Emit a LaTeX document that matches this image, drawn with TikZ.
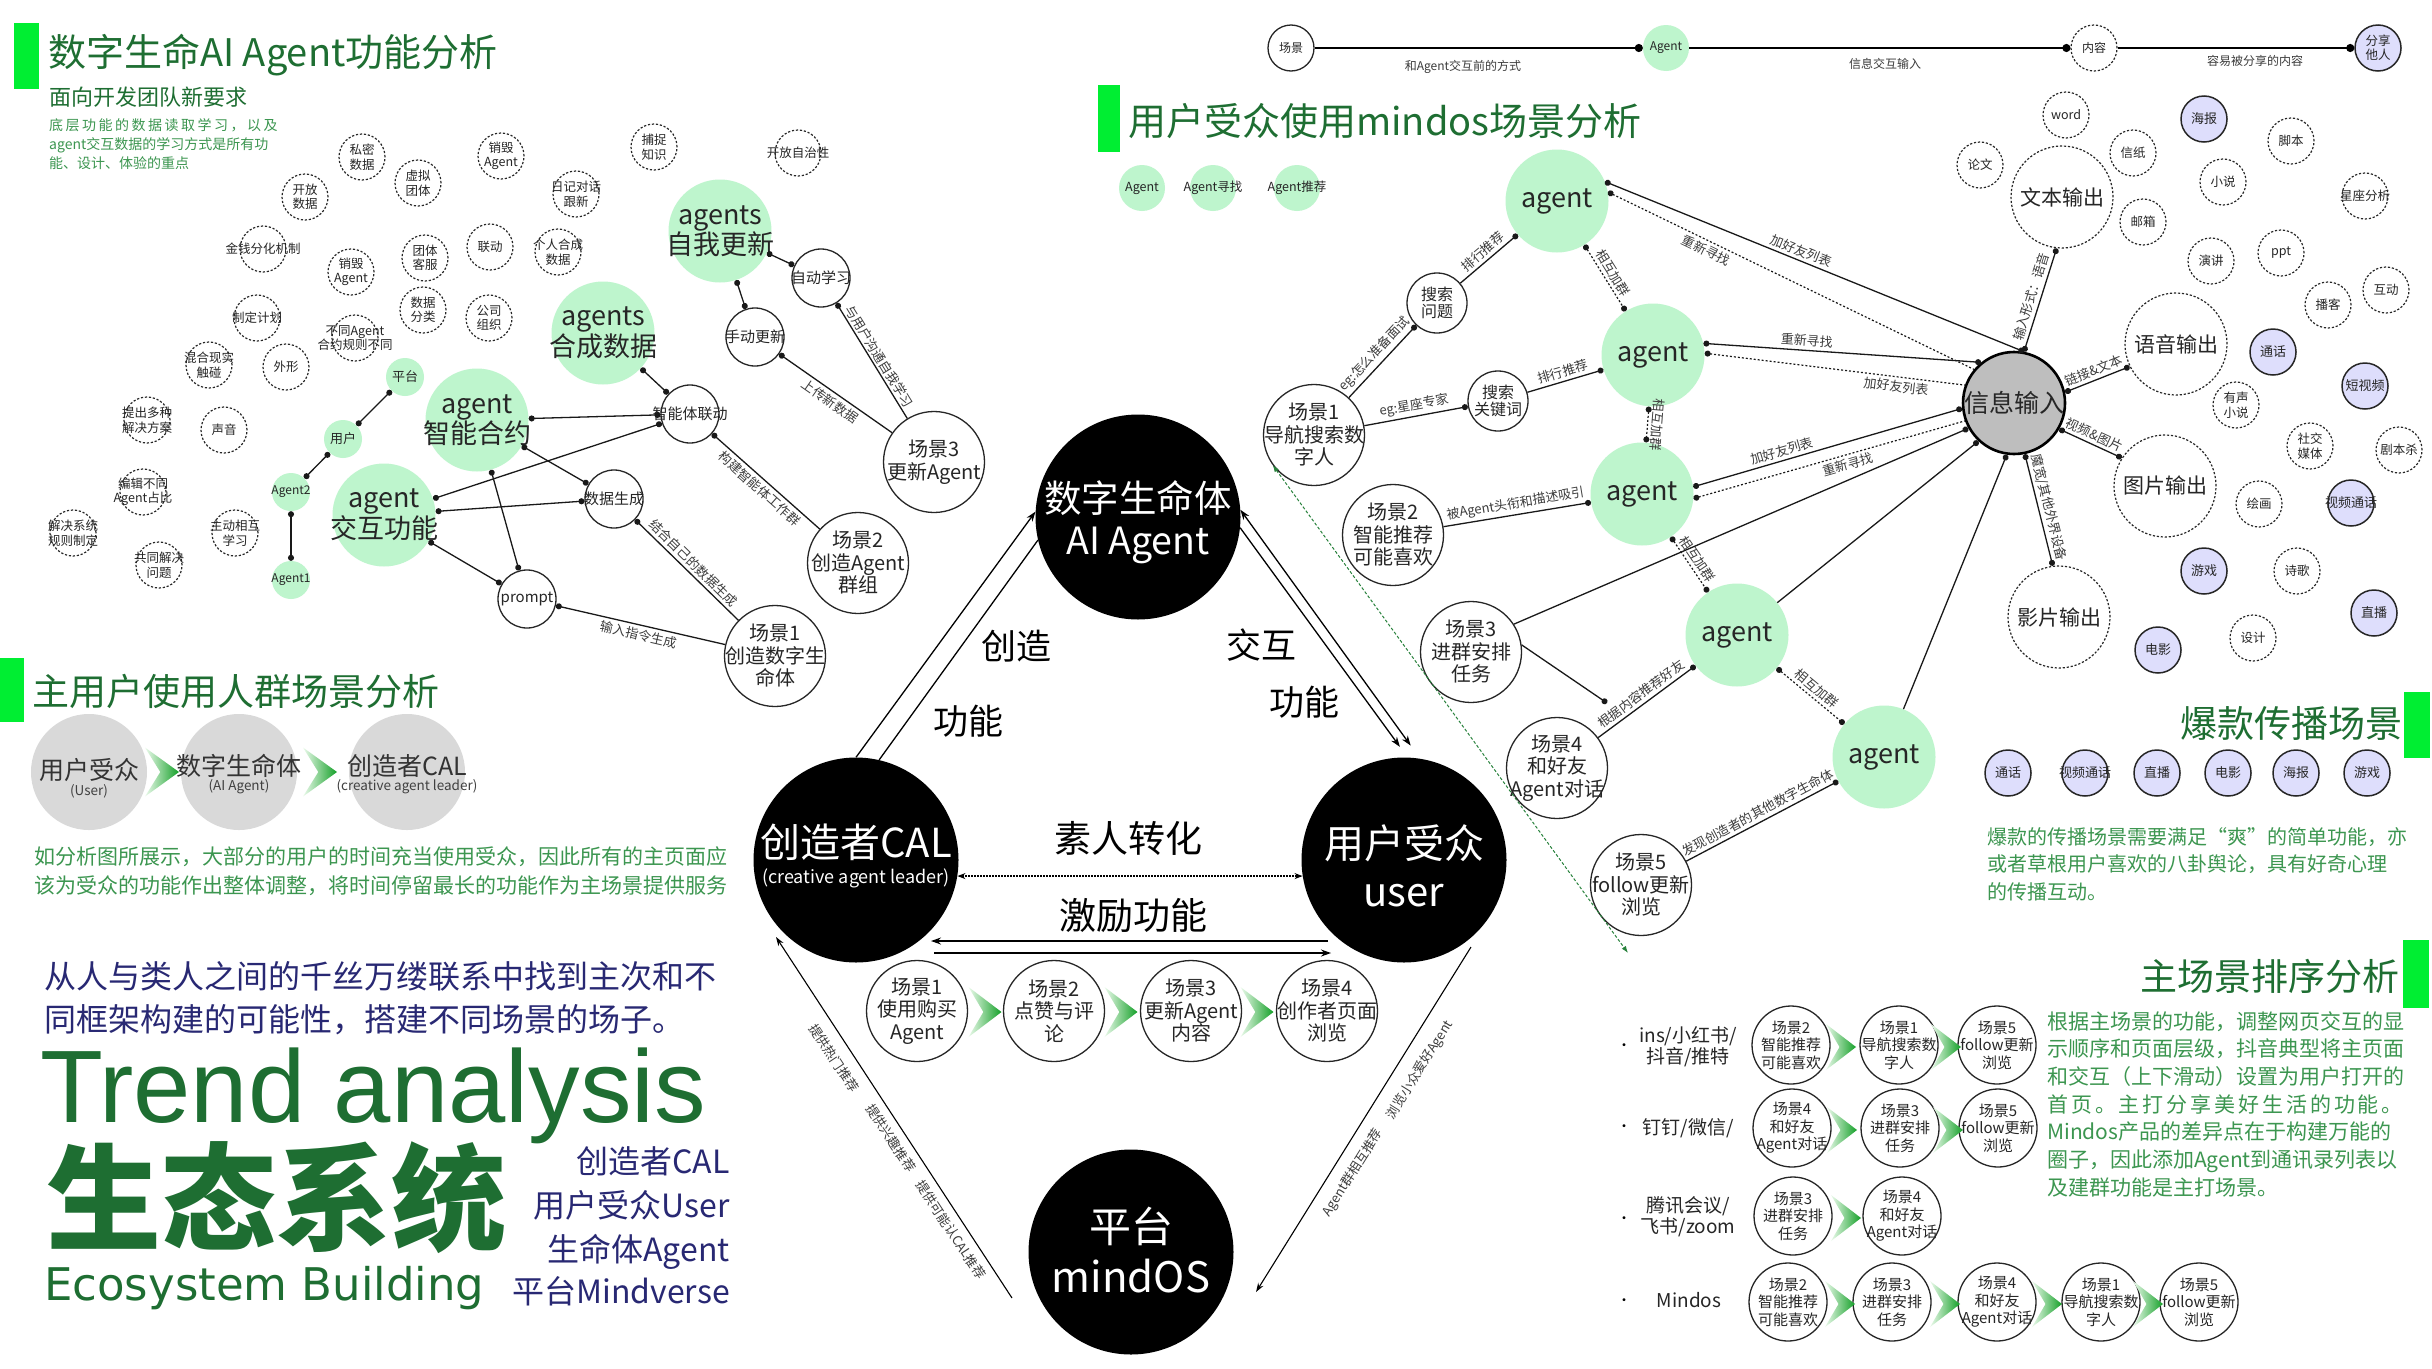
\documentclass[tikz,border=0pt]{standalone}
\usepackage{fontspec}
\setmainfont{Noto Sans CJK SC}
\newfontfamily\arialf{Liberation Sans}
\newfontfamily\dejavuf{DejaVu Sans}
\usetikzlibrary{arrows.meta}
\definecolor{mint}{RGB}{190,245,205}
\definecolor{lav}{RGB}{222,222,252}
\definecolor{dgreen}{RGB}{30,110,50}
\definecolor{pgreen}{RGB}{60,150,80}
\definecolor{bgreen}{RGB}{0,238,50}
\definecolor{navy}{RGB}{40,40,115}
\definecolor{labc}{RGB}{60,60,60}
\definecolor{chevd}{RGB}{20,160,40}
\definecolor{chevl}{RGB}{235,250,235}
\definecolor{ggray}{RGB}{217,217,217}
\definecolor{igray}{RGB}{190,190,190}
\definecolor{gdash}{RGB}{40,130,60}
\newcommand\fsz[2]{\fontsize{#1}{#2}\selectfont}
\newcommand\cnode[6]{\node[#1] (#3) at (#4,#5) {}; \node[ctext,#2] (#3t) at (#4,#5) {#6};}
\newcommand\mychev[4]{\shade[left color=chevl, right color=chevd] (#1-#3/2,#2-#4/2) -- (#1+#3/2,#2) -- (#1-#3/2,#2+#4/2) -- (#1-#3*0.05,#2) -- cycle;}
\newcommand\kk{\kern2.5pt}
\newcommand\kq{\kern2.9pt}
\tikzset{
 ctext/.style={align=center, inner sep=0pt, text=black!85},
 dsm/.style={circle, draw=black!85, line width=1.2pt, dash pattern=on 2.2pt off 1.8pt, minimum size=46pt, inner sep=0pt},
 dbg/.style={dsm, minimum size=102pt},
 gsm/.style={circle, fill=mint, minimum size=38pt, inner sep=0pt},
 gmd/.style={circle, fill=mint, minimum size=46pt, inner sep=0pt},
 gbg/.style={circle, fill=mint, minimum size=103pt, inner sep=0pt},
 wsm/.style={circle, draw=black!85, line width=1.3pt, minimum size=58pt, inner sep=0pt},
 wmd/.style={wsm, minimum size=60pt},
 wtb/.style={wsm, minimum size=46pt},
 scn/.style={wsm, minimum size=101pt},
 sorder/.style={wsm, minimum size=78pt},
 lv/.style={circle, draw=black!85, line width=1.5pt, fill=lav, minimum size=46pt, inner sep=0pt},
 blk/.style={circle, fill=black, minimum size=205pt, inner sep=0pt},
 gcirc/.style={circle, fill=ggray, minimum size=116pt, inner sep=0pt},
 infost/.style={circle, draw=black, line width=2.6pt, fill=igray, minimum size=102pt, inner sep=0pt},
 tdsm/.style={font=\fsz{12.5}{14.5}},
 tgs/.style={font=\fsz{13}{14}},
 tgb/.style={font=\fsz{27}{29}},
 twsm/.style={font=\fsz{15}{17}},
 tscn/.style={font=\fsz{20}{22.5}},
 twmd/.style={font=\fsz{16}{17.5}},
 tso/.style={font=\fsz{15}{17.5}},
 tlv/.style={font=\fsz{13}{14.5}},
 tdbg/.style={font=\fsz{21}{23}},
 lab/.style={font=\fsz{13}{14}, text=labc, inner sep=0pt},
 ln/.style={line width=1.3pt, draw=black!90},
 dl/.style={ln, {Circle[length=6pt]}-{Circle[length=6pt]}},
 dlA/.style={ln, {Circle[length=6pt]}-},
 dlB/.style={ln, -{Circle[length=6pt]}},
 dtl/.style={line width=1.2pt, draw=black!90, dash pattern=on 2pt off 2pt},
 dtd/.style={dtl, {Circle[length=6pt]}-{Circle[length=6pt]}},
 dtA/.style={dtl, {Circle[length=6pt]}-},
 heads/.style={line width=1.3pt},
 bigt/.style={inner sep=0pt, text=white},
 titl/.style={inner sep=0pt, text=dgreen, font=\fsz{37}{40}},
 para/.style={inner sep=0pt, text=pgreen, align=left},
}
\begin{document}
\begin{tikzpicture}[x=1pt,y=-1pt]
\useasboundingbox (0,0) rectangle (2432,1368);
\fill[white] (0,0) rectangle (2432,1368);

%%%%%%%% Section 1: top left
\fill[bgreen] (14,23) rectangle (39,89);
\node[titl, anchor=west, font=\fsz{38}{40}] (ti1) at (48,55) {数字生命AI Agent功能分析};
\node[titl, anchor=west, font=\fsz{22}{24}] (ti1s) at (49,97) {面向开发团队新要求};
\node[para, anchor=north west, font=\fsz{14}{19}] (ti1p) at (49,118) {底\kk 层\kk 功\kk 能\kk 的\kk 数\kk 据\kk 读\kk 取\kk 学\kk 习\kk ，\kk 以\kk 及\\agent交互数据的学习方式是所有功\\能、设计、体验的重点};

\cnode{dsm}{tdsm}{d1}{362}{157}{私密\\数据}
\cnode{dsm}{tdsm}{d2}{418}{183}{虚拟\\团体}
\cnode{dsm}{tdsm}{d3}{501}{156}{销毁\\Agent}
\cnode{dsm}{tdsm}{d4}{654}{147}{捕捉\\知识}
\cnode{dsm}{tdsm}{d5}{798}{153}{开放自治性}
\cnode{dsm}{tdsm}{d6}{576}{194}{日记对话\\跟新}
\cnode{dsm}{tdsm}{d7}{305}{197}{开放\\数据}
\cnode{dsm}{tdsm}{d8}{263}{249}{金钱分化机制}
\cnode{dsm}{tdsm}{d9}{351}{272}{销毁\\Agent}
\cnode{dsm}{tdsm}{d10}{425}{258}{团体\\客服}
\cnode{dsm}{tdsm}{d11}{490}{247}{联动}
\cnode{dsm}{tdsm}{d12}{558}{252}{个人合成\\数据}
\cnode{dsm}{tdsm}{d13}{423}{310}{数据\\分类}
\cnode{dsm}{tdsm}{d14}{489}{318}{公司\\组织}
\cnode{dsm}{tdsm}{d15}{257}{318}{制定计划}
\cnode{dsm}{tdsm}{d16}{355}{338}{不同Agent\\合约规则不同}
\cnode{dsm}{tdsm}{d17}{209}{365}{混合现实\\触碰}
\cnode{dsm}{tdsm}{d18}{286}{367}{外形}
\cnode{dsm}{tdsm}{d19}{147}{420}{提出多种\\解决方案}
\cnode{dsm}{tdsm}{d20}{224}{430}{声音}
\cnode{dsm}{tdsm}{d21}{143}{492}{编辑不同\\Agent占比}
\cnode{dsm}{tdsm}{d22}{73}{533}{解决系统\\规则制定}
\cnode{dsm}{tdsm}{d23}{235}{533}{主动相互\\学习}
\cnode{dsm}{tdsm}{d24}{159}{565}{共同解决\\问题}

\cnode{gsm}{tgs}{gpt}{405}{377}{平台}
\cnode{gsm}{tgs}{gyh}{343}{439}{用户}
\cnode{gsm}{font=\fsz{12}{13}}{gag2}{291}{492}{Agent2}
\cnode{gsm}{font=\fsz{12}{13}}{gag1}{291}{580}{Agent1}
\draw[dl] (gpt) -- (gyh);
\draw[dl] (gyh) -- (gag2);
\draw[dl] (gag2) -- (gag1);

\cnode{gbg}{tgb}{as}{720}{231}{agents\\自我更新}
\cnode{gbg}{tgb}{acd}{603}{333}{agents\\合成数据}
\cnode{gbg}{tgb}{azy}{477}{420}{agent\\智能合约}
\cnode{gbg}{tgb}{ajh}{384}{515}{agent\\交互功能}

\cnode{wsm}{twsm}{zx}{821}{278}{自动学习}
\cnode{wsm}{twsm}{sd}{755}{337}{手动更新}
\cnode{wsm}{twsm}{ld}{690}{414}{智能体联动}
\cnode{wsm}{twsm}{sc}{614}{499}{数据生成}
\cnode{wsm}{twsm}{pr}{527}{599}{prompt}

\cnode{scn}{tscn}{l3}{934}{462}{场景3\\更新Agent}
\cnode{scn}{tscn}{l2}{858}{563}{场景2\\创造Agent\\群组}
\cnode{scn}{tscn}{l1}{775}{656}{场景1\\创造数字生\\命体}

\draw[dl] (as) -- (zx);
\draw[dl] (as) -- (sd);
\draw[dlA] (sd) -- node[lab, sloped, below=3pt] {上传新数据} (l3);
\draw[dlA] (zx) -- node[lab, sloped, above=2pt] {与用户沟通自我学习} (l3);
\draw[dl] (acd) -- (ld);
\draw[dl] (azy) -- (ld);
\draw[dl] (ajh) -- (ld);
\draw[dl] (azy) -- (sc);
\draw[dl] (ajh) -- (sc);
\draw[dl] (azy) -- (pr);
\draw[dl] (ajh) -- (pr);
\draw[dlA] (ld) -- node[lab, sloped, below=3pt] {构建智能体工作群} (l2);
\draw[dlA] (sc) -- node[lab, sloped, above=3pt] {结合自己的数据生成} (l1);
\draw[dlA] (pr) -- node[lab, sloped, below=3pt] {输入指令生成} (l1);

%%%%%%%% Section 2: main user group
\fill[bgreen] (0,658) rectangle (24,722);
\node[titl, anchor=west] (ti2) at (32,691) {主用户使用人群场景分析};
\node[gcirc] (g1) at (89,772) {};
\node[gcirc] (g2) at (239,772) {};
\node[gcirc] (g3) at (407,772) {};
\node[ctext, text=black!80, font=\fsz{25}{27}] (g1t) at (89,770) {用户受众};
\node[ctext, text=black!75, font=\fsz{13.5}{15}] (g1s) at (89,791) {(User)};
\node[ctext, text=black!80, font=\fsz{25}{27}] (g2t) at (239,766) {数字生命体};
\node[ctext, text=black!75, font=\fsz{13.5}{15}] (g2s) at (239,787) {(AI Agent)};
\node[ctext, text=black!80, font=\fsz{25}{27}] (g3t) at (407,766) {创造者CAL};
\node[ctext, text=black!75, font=\fsz{13.5}{15}] (g3s) at (407,787) {(creative agent leader)};
\mychev{162}{772}{34}{49}
\mychev{320}{772}{34}{49}
\node[para, anchor=north west, font=\fsz{21}{29}] (p2) at (34,846) {如分析图所展示，大部分的用户的时间充当使用受众，因此所有的主页面应\\该为受众的功能作出整体调整，将时间停留最长的功能作为主场景提供服务};

%%%%%%%% Section 3: bottom left
\node[inner sep=0pt, anchor=west, text=navy, font=\fsz{32}{43}, align=left] (p3) at (44,998) {从人与类人之间的千丝万缕联系中找到主次和不\\同框架构建的可能性，搭建不同场景的场子。};
\node[inner sep=0pt, anchor=base west, text=dgreen, font=\arialf\fsz{103}{110}] (tr) at (40,1122) {Trend analysis};
\node[inner sep=0pt, anchor=west, text=dgreen, font=\bfseries\fsz{115}{120}] (st) at (46,1198) {生态系统};
\node[inner sep=0pt, anchor=base west, text=dgreen, font=\dejavuf\fsz{45}{50}] (eb) at (44,1300) {Ecosystem Building};
\node[inner sep=0pt, anchor=base east, text=navy, font=\fsz{32}{34}] (nv1) at (730,1173) {创造者CAL};
\node[inner sep=0pt, anchor=base east, text=navy, font=\fsz{32}{34}] (nv2) at (730,1217) {用户受众User};
\node[inner sep=0pt, anchor=base east, text=navy, font=\fsz{32}{34}] (nv3) at (730,1261) {生命体Agent};
\node[inner sep=0pt, anchor=base east, text=navy, font=\fsz{32}{34}] (nv4) at (730,1303) {平台Mindverse};

%%%%%%%% Center triangle
\node[blk] (AG) at (1138,517) {};
\node[bigt, align=center, font=\fsz{37.5}{42}] (AGt) at (1138,522) {数字生命体\\AI Agent};
\node[blk] (CAL) at (856,860) {};
\node[bigt, font=\fsz{40}{44}] (CALt) at (856,842) {创造者CAL};
\node[bigt, font=\fsz{18}{20}] (CALs) at (856,878) {(creative agent leader)};
\node[blk] (USR) at (1404,860) {};
\node[bigt, align=center, font=\fsz{40}{48}] (USRt) at (1404,866) {用户受众\\user};
\node[blk] (PF) at (1131,1252) {};
\node[bigt, align=center, font=\fsz{42}{50}] (PFt) at (1131,1250) {平台\\mindOS};

\draw[heads, -{Stealth[length=10pt,width=7pt]}] (CAL.90) -- (AG.177);
\draw[heads] (CAL.77) -- (AG.193);
\draw[heads, {Stealth[length=10pt,width=7pt]}-{Stealth[length=10pt,width=7pt]}, shorten >=16pt] (AG.4) -- (USR.81);
\draw[heads, -{Stealth[length=10pt,width=7pt]}, shorten >=13pt] (AG.-6) -- (USR.88);
\node[inner sep=0pt, font=\fsz{35}{38}] (lb1) at (1016,646) {创造};
\node[inner sep=0pt, font=\fsz{35}{38}] (lb2) at (968,721) {功能};
\node[inner sep=0pt, font=\fsz{35}{38}] (lb3) at (1261,645) {交互};
\node[inner sep=0pt, font=\fsz{35}{38}] (lb4) at (1304,702) {功能};
\node[inner sep=0pt, font=\fsz{37}{40}] (lb5) at (1128,838) {素人转化};
\node[inner sep=0pt, font=\fsz{37}{40}] (lb6) at (1133,915) {激励功能};
\draw[line width=1.3pt, dash pattern=on 1.5pt off 1.5pt, {Stealth[length=8pt,width=6pt]}-{Stealth[length=8pt,width=6pt]}] (CAL.-9) -- (USR.189);
\coordinate (j1a) at (1328,941);
\coordinate (j1b) at (931,941);
\coordinate (j2a) at (934,953);
\coordinate (j2b) at (1331,953);
\draw[heads, -{Stealth[length=10pt,width=7pt]}] (j1a) -- (j1b);
\draw[heads, -{Stealth[length=10pt,width=7pt]}] (j2a) -- (j2b);

\cnode{scn}{tscn}{b1}{917}{1011}{场景1\\使用购买\\Agent}
\cnode{scn}{tscn}{b2}{1054}{1011}{场景2\\点赞与评\\论}
\cnode{scn}{tscn}{b3}{1191}{1011}{场景3\\更新Agent\\内容}
\cnode{scn}{tscn}{b4}{1327}{1011}{场景4\\创作者页面\\浏览}
\mychev{985}{1012}{33}{50}
\mychev{1121}{1012}{33}{50}
\mychev{1257}{1012}{33}{50}

\coordinate (pfa) at (1012,1298);
\coordinate (pfb) at (776,937);
\draw[line width=1.1pt, -{Stealth[length=9pt,width=6pt]}] (pfa) -- (pfb);
\node[lab, rotate=-56.8] (pl1) at (834,1058) {提供热门推荐};
\node[lab, rotate=-56.8] (pl2) at (891,1138) {提供兴趣推荐};
\node[lab, rotate=-56.8] (pl3) at (951,1230) {提供可能认CAL推荐};
\coordinate (ufa) at (1471,947);
\coordinate (ufb) at (1256,1292);
\draw[line width=1.1pt, -{Stealth[length=9pt,width=6pt]}] (ufa) -- (ufb);
\node[lab, rotate=58] (ul1) at (1420,1070) {浏览小众爱好Agent};
\node[lab, rotate=58] (ul2) at (1353,1173) {Agent群相互推荐};

%%%%%%%% Top bar
\cnode{wtb}{font=\fsz{12}{13.5}}{tb1}{1291}{48}{场景}
\cnode{gmd}{font=\fsz{12}{13.5}}{tb2}{1666}{48}{Agent}
\cnode{dsm}{font=\fsz{12}{13.5}}{tb3}{2094}{48}{内容}
\cnode{lv}{font=\fsz{12.5}{14}}{tb4}{2378}{48}{分享\\他人}
\draw[line width=2.4pt, -{Circle[length=8pt]}] (tb1) -- (tb2);
\draw[line width=2.4pt, -{Circle[length=8pt]}] (tb2) -- (tb3);
\draw[line width=2.4pt, -{Circle[length=8pt]}] (tb3) -- (tb4);
\node[lab, font=\fsz{12}{13}] (tbl1) at (1463,67) {和Agent交互前的方式};
\node[lab, font=\fsz{12}{13}] (tbl2) at (1885,64) {信息交互输入};
\node[lab, font=\fsz{12}{13}] (tbl3) at (2255,61) {容易被分享的内容};

%%%%%%%% Right graph
\fill[bgreen] (1098,85) rectangle (1120,152);
\node[titl, anchor=west, font=\fsz{38}{40}] (ti3) at (1128,121) {用户受众使用mindos场景分析};
\cnode{gmd}{font=\fsz{12.5}{14}}{lg1}{1142}{188}{Agent}
\cnode{gmd}{font=\fsz{12.5}{14}}{lg2}{1213}{188}{Agent寻找}
\cnode{gmd}{font=\fsz{12.5}{14}}{lg3}{1297}{188}{Agent推荐}

\cnode{gbg}{tgb}{a1}{1557}{201}{agent}
\cnode{gbg}{tgb}{a2}{1653}{355}{agent}
\cnode{gbg}{tgb}{a3}{1642}{494}{agent}
\cnode{gbg}{tgb}{a4}{1737}{635}{agent}
\cnode{gbg}{tgb}{a5}{1884}{757}{agent}

\cnode{wmd}{twmd}{sq}{1437}{303}{搜索\\问题}
\cnode{wmd}{twmd}{sk}{1498}{401}{搜索\\关键词}
\cnode{scn}{tscn}{r1}{1314}{435}{场景1\\导航搜索数\\字人}
\cnode{scn}{tscn}{r2}{1393}{535}{场景2\\智能推荐\\可能喜欢}
\cnode{scn}{tscn}{r3}{1471}{652}{场景3\\进群安排\\任务}
\cnode{scn}{tscn}{r4}{1557}{768}{场景4\\和好友\\Agent对话}
\cnode{scn}{tscn}{r5}{1641}{885}{场景5\\follow更新\\浏览}

\cnode{infost}{font=\fsz{25}{27}}{info}{2014}{403}{信息输入}
\cnode{dbg}{tdbg}{wb}{2062}{197}{文本输出}
\cnode{dbg}{tdbg}{yy}{2176}{344}{语音输出}
\cnode{dbg}{tdbg}{tp}{2165}{486}{图片输出}
\cnode{dbg}{tdbg}{yp}{2059}{617}{影片输出}

\draw[dlB] (r1) -- node[lab, sloped, above=3pt] {eg:怎么准备面试} (sq);
\draw[dlB] (sq) -- node[lab, sloped, above=3pt] {排行推荐} (a1);
\draw[dlB] (r1) -- node[lab, sloped, above=3pt] {eg:星座专家} (sk);
\draw[dlB] (sk) -- node[lab, sloped, above=3pt] {排行推荐} (a2);
\draw[dlB] (r2) -- node[lab, sloped, above=3pt] {被Agent头衔和描述吸引} (a3);
\coordinate (s3d) at (1607,703);
\draw[dlB] (r3.8) -- (s3d);
\draw[dlB] (r4) -- node[lab, sloped, above=3pt] {根据内容推荐好友} (a4);
\draw[dlB] (r5) -- node[lab, sloped, above=3pt] {发现创造者的其他数字生命体} (a5);

\draw[dtd] (a1) -- node[lab, sloped, above=3pt] {相互加群} (a2);
\draw[dtd] (a2) -- node[lab, sloped, allow upside down, above=3pt] {相互加群} (a3);
\draw[dtd] (a3) -- node[lab, sloped, above=3pt] {相互加群} (a4);
\draw[dtd] (a4) -- node[lab, sloped, above=3pt] {相互加群} (a5);

\draw[dl] (a1.22) -- node[lab, sloped, above=3pt, pos=0.46] {加好友列表} (info.79);
\draw[dtA] (a1.10) -- node[lab, sloped, below=3pt, pos=0.28] {重新寻找} (info.140);
\draw[dl] (a2.13) -- node[lab, sloped, above=3pt, pos=0.37] {重新寻找} (info.129);
\draw[dtA] (a2.2) -- node[lab, sloped, below=3pt, pos=0.74] {加好友列表} (info.160);
\draw[dl] (a3.8) -- node[lab, sloped, above=3pt, pos=0.34] {加好友列表} (info.186);
\draw[dtA] (a3.-5) -- node[lab, sloped, below=3pt, pos=0.56] {重新寻找} (info.200);
\draw[dlB] (r3.33) -- (info.209);
\draw[dlB] (a4) -- (info.227);
\draw[dlB] (a5) -- (info.262);

\draw[dl] (info.79) -- node[lab, sloped, above=3pt] {输入形式：语音} (wb.264);
\draw[dl] (info.12) -- node[lab, sloped, above=3pt] {链接\&文本} (yy.206);
\draw[dl] (info.-30) -- node[lab, sloped, above=3pt] {视频\&图片} (tp.147);
\draw[dl] (info.282) -- node[lab, sloped, above=3pt] {魔宽/其他外界设备} (yp.97);

\coordinate (gde) at (1628,953);
\draw[gdash, line width=1pt, dash pattern=on 3pt off 2pt, {Latex[length=7pt,width=5pt]}-{Latex[length=7pt,width=5pt]}] (r1.216) -- (gde);

\cnode{dsm}{tdsm}{e1}{2066}{115}{word}
\cnode{dsm}{tdsm}{e2}{1980}{165}{论文}
\cnode{dsm}{tdsm}{e3}{2133}{153}{信纸}
\cnode{dsm}{tdsm}{e4}{2143}{222}{邮箱}
\cnode{lv}{tlv}{e5}{2204}{119}{海报}
\cnode{dsm}{tdsm}{e6}{2291}{141}{脚本}
\cnode{dsm}{tdsm}{e7}{2223}{182}{小说}
\cnode{dsm}{tdsm}{e8}{2365}{196}{星座分析}
\cnode{dsm}{tdsm}{e9}{2211}{261}{演讲}
\cnode{dsm}{tdsm}{e10}{2281}{253}{ppt}
\cnode{dsm}{tdsm}{e11}{2328}{305}{播客}
\cnode{dsm}{tdsm}{e12}{2386}{290}{互动}
\cnode{lv}{tlv}{e13}{2273}{352}{通话}
\cnode{lv}{tlv}{e14}{2365}{386}{短视频}
\cnode{dsm}{tdsm}{e15}{2236}{405}{有声\\小说}
\cnode{dsm}{tdsm}{e16}{2310}{446}{社交\\媒体}
\cnode{dsm}{tdsm}{e17}{2399}{450}{剧本杀}
\cnode{dsm}{tdsm}{e18}{2259}{504}{绘画}
\cnode{lv}{tlv}{e19}{2351}{503}{视频通话}
\cnode{lv}{tlv}{e20}{2204}{571}{游戏}
\cnode{dsm}{tdsm}{e21}{2297}{571}{诗歌}
\cnode{lv}{tlv}{e22}{2374}{613}{直播}
\cnode{dsm}{tdsm}{e23}{2253}{638}{设计}
\cnode{lv}{tlv}{e24}{2158}{650}{电影}

%%%%%%%% 爆款传播场景
\fill[bgreen] (2404,692) rectangle (2430,758);
\node[titl, anchor=east] (ti4) at (2403,723) {爆款传播场景};
\cnode{lv}{tlv}{h1}{2008}{773}{通话}
\cnode{lv}{tlv}{h2}{2085}{773}{视频通话}
\cnode{lv}{tlv}{h3}{2157}{773}{直播}
\cnode{lv}{tlv}{h4}{2228}{773}{电影}
\cnode{lv}{tlv}{h5}{2296}{773}{海报}
\cnode{lv}{tlv}{h6}{2367}{773}{游戏}
\node[para, anchor=north west, font=\fsz{20}{27.5}] (p4) at (1987,827) {爆款的传播场景需要满足“爽”的简单功能，亦\\或者草根用户喜欢的八卦舆论，具有好奇心理\\的传播互动。};

%%%%%%%% 主场景排序分析
\fill[bgreen] (2403,940) rectangle (2429,1008);
\node[titl, anchor=east] (ti5) at (2400,976) {主场景排序分析};
\node[inner sep=0pt, font=\fsz{14}{15}] (bu1) at (1624,1047) {•};
\node[inner sep=0pt, font=\fsz{14}{15}] (bu2) at (1624,1128) {•};
\node[inner sep=0pt, font=\fsz{14}{15}] (bu3) at (1624,1220) {•};
\node[inner sep=0pt, font=\fsz{14}{15}] (bu4) at (1624,1302) {•};
\node[ctext, font=\fsz{19}{21}] (rl1) at (1688,1047) {ins/小红书/\\抖音/推特};
\node[ctext, font=\fsz{19}{21}] (rl2) at (1688,1128) {钉钉/微信/};
\node[ctext, font=\fsz{19}{21}] (rl3) at (1688,1217) {腾讯会议/\\飞书/zoom};
\node[ctext, font=\fsz{19}{21}] (rl4) at (1689,1300) {Mindos};

\cnode{sorder}{tso}{o11}{1791}{1045}{场景2\\智能推荐\\可能喜欢}
\cnode{sorder}{tso}{o12}{1899}{1045}{场景1\\导航搜索数\\字人}
\cnode{sorder}{tso}{o13}{1997}{1045}{场景5\\follow更新\\浏览}
\cnode{sorder}{tso}{o21}{1792}{1128}{场景4\\和好友\\Agent对话}
\cnode{sorder}{tso}{o22}{1900}{1128}{场景3\\进群安排\\任务}
\cnode{sorder}{tso}{o23}{1998}{1128}{场景5\\follow更新\\浏览}
\cnode{sorder}{tso}{o31}{1793}{1216}{场景3\\进群安排\\任务}
\cnode{sorder}{tso}{o32}{1902}{1216}{场景4\\和好友\\Agent对话}
\cnode{sorder}{tso}{o41}{1788}{1302}{场景2\\智能推荐\\可能喜欢}
\cnode{sorder}{tso}{o42}{1892}{1302}{场景3\\进群安排\\任务}
\cnode{sorder}{tso}{o43}{1997}{1302}{场景4\\和好友\\Agent对话}
\cnode{sorder}{tso}{o44}{2101}{1302}{场景1\\导航搜索数\\字人}
\cnode{sorder}{tso}{o45}{2199}{1302}{场景5\\follow更新\\浏览}
\mychev{1841}{1047}{30}{46}
\mychev{1946}{1047}{30}{46}
\mychev{1842}{1130}{30}{46}
\mychev{1948}{1130}{30}{46}
\mychev{1846}{1218}{30}{46}
\mychev{1840}{1304}{30}{46}
\mychev{1945}{1304}{30}{46}
\mychev{2047}{1304}{30}{46}
\mychev{2148}{1304}{30}{46}
\node[para, anchor=north west, font=\fsz{21}{27.7}] (p5) at (2047,1011) {根据主场景的功能，调整网页交互的显\\示顺序和页面层级，抖音典型将主页面\\和交互（上下滑动）设置为用户打开的\\首\kq 页\kq 。\kq 主\kq 打\kq 分\kq 享\kq 美\kq 好\kq 生\kq 活\kq 的\kq 功\kq 能\kq 。\\Mindos产品的差异点在于构建万能的\\圈子，因此添加Agent到通讯录列表以\\及建群功能是主打场景。};
\end{tikzpicture}
\end{document}
